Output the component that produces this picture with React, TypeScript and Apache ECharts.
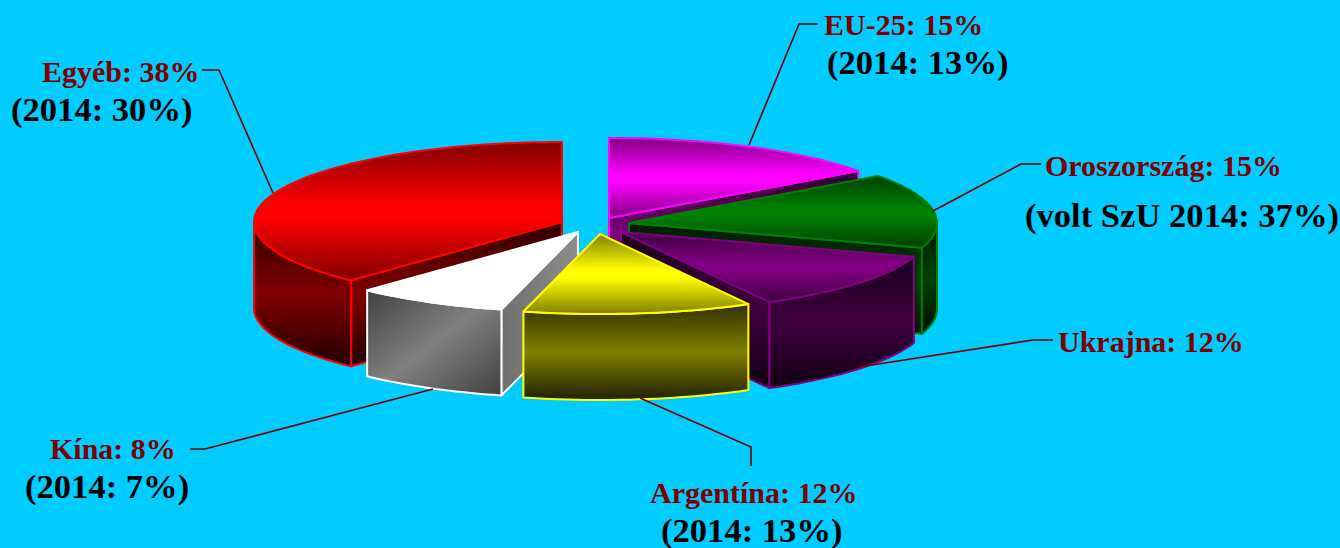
import React, { useEffect, useRef } from "react";
import * as echarts from "echarts";

// ---- data ----
const categories = ["EU-25", "Oroszország", "Ukrajna", "Argentína", "Kína", "Egyéb"];
const shares = [15, 15, 12, 12, 8, 38];
const compareLabels = ["(2014: 13%)", "(volt SzU 2014: 37%)", "", "(2014: 13%)", "(2014: 7%)", "(2014: 30%)"];

// ---- layout & style (separate from the data) ----
const drawOrder = [5, 0, 1, 2, 4, 3];
const centers = [[609, 218], [629, 223], [621, 232], [600, 234], [578, 232], [562, 222]];
const RX = 308, RY = 80, DEPTH = 86;
const palette = [
  { line: "#ff00ff", top: ["#800080", "#ff00ff"], wall: ["#2a002a", "#800080", "#200020"] },
  { line: "#008000", top: ["#004000", "#008000"], wall: ["#001a00", "#004000", "#001000"] },
  { line: "#800080", top: ["#400040", "#800080"], wall: ["#1a001a", "#400040", "#100010"] },
  { line: "#ffff00", top: ["#808000", "#ffff00"], wall: ["#303000", "#808000", "#202000"] },
  { line: "#ffffff", top: ["#ffffff", "#ffffff"], wall: ["#404040", "#808080", "#404040"] },
  { line: "#ff0000", top: ["#800000", "#ff0000"], wall: ["#300000", "#800000", "#200000"] },
];
const labelPos = [
  { x: 824, y: 24, sx: 827, sy: 62 },
  { x: 1045, y: 165, sx: 1025, sy: 215 },
  { x: 1058, y: 341, sx: 0, sy: 0 },
  { x: 650, y: 492, sx: 661, sy: 530 },
  { x: 50, y: 448, sx: 25, sy: 486 },
  { x: 42, y: 71, sx: 11, sy: 109 },
];
const leaders = [
  [[818, 24], [799, 24], [749, 145]],
  [[1041, 164], [1021, 164], [933, 211]],
  [[1053, 340], [1033, 340], [859, 367]],
  [[640, 398], [751, 447], [751, 466]],
  [[190, 449], [205, 449], [433, 389]],
  [[202, 70], [219, 70], [273, 193]],
];
const FONT = '"Liberation Serif", "Times New Roman", serif';

const total = shares.reduce((a, b) => a + b, 0);
const starts = shares.map((_, i) => (shares.slice(0, i).reduce((a, b) => a + b, 0) / total) * Math.PI * 2);

function rim(i: number, th: number, dy = 0): number[] {
  const [cx, cy] = centers[i];
  return [cx + RX * Math.sin(th), cy - RY * Math.cos(th) + dy];
}
function arc(i: number, a: number, b: number, dy = 0): number[][] {
  const n = Math.max(2, Math.ceil(Math.abs(b - a) / 0.03));
  const pts: number[][] = [];
  for (let k = 0; k <= n; k++) pts.push(rim(i, a + ((b - a) * k) / n, dy));
  return pts;
}
function vGrad(c: string[]) {
  return new echarts.graphic.LinearGradient(0, 0, 0, 1, c.map((color, k) => ({ offset: k / (c.length - 1), color })));
}

function renderSlice(_: any, api: any) {
  const i = api.value(0) as number;
  const a = starts[i];
  const b = a + (shares[i] / total) * Math.PI * 2;
  const [cx, cy] = centers[i];
  const p = palette[i];
  const isWhite = i === 4;
  const wallFill = isWhite
    ? new echarts.graphic.LinearGradient(0, 0, 1, 1, [
        { offset: 0, color: p.wall[0] },
        { offset: 0.5, color: p.wall[1] },
        { offset: 1, color: p.wall[2] },
      ])
    : vGrad(p.wall);
  const cutFill = isWhite
    ? new echarts.graphic.LinearGradient(0, 0, 1, 0, [
        { offset: 0, color: "#707070" },
        { offset: 1, color: "#8c8c8c" },
      ])
    : vGrad(p.wall);
  const strokeStyle = { stroke: p.line, lineWidth: 2, lineJoin: "round" };
  const children: any[] = [];
  const cut = (th: number) => {
    const e = rim(i, th);
    children.push({
      type: "polygon",
      shape: { points: [[cx, cy], e, [e[0], e[1] + DEPTH], [cx, cy + DEPTH]] },
      style: { fill: cutFill, ...strokeStyle },
    });
  };
  // only the cut faces turned towards the viewer are drawn
  if (a > Math.PI) cut(a);
  if (b < Math.PI) cut(b);
  const va = Math.max(a, Math.PI / 2);
  const vb = Math.min(b, (Math.PI * 3) / 2);
  if (vb > va) {
    children.push({
      type: "polygon",
      shape: { points: [...arc(i, va, vb), ...arc(i, vb, va, DEPTH)] },
      style: { fill: wallFill, ...strokeStyle },
    });
  }
  children.push({
    type: "polygon",
    shape: { points: [[cx, cy], ...arc(i, a, b)] },
    style: {
      fill: new echarts.graphic.LinearGradient(0, 0, 0, 1, [
        { offset: 0, color: p.top[0] },
        { offset: 0.45, color: p.top[1] },
        { offset: 0.55, color: p.top[1] },
        { offset: 1, color: p.top[0] },
      ]),
      ...strokeStyle,
    },
  });
  return { type: "group", children };
}

export default function App() {
  const ref = useRef<HTMLDivElement>(null);
  useEffect(() => {
    document.body.style.margin = "0";
    const chart = echarts.init(ref.current!, null, { renderer: "svg" });
    const graphic: any[] = [];
    leaders.forEach((pts) =>
      graphic.push({
        type: "polyline",
        z: 5,
        shape: { points: pts },
        style: { stroke: "#800000", lineWidth: 1.6, fill: "none" },
      })
    );
    categories.forEach((c, i) => {
      graphic.push({
        type: "text",
        z: 6,
        x: labelPos[i].x,
        y: labelPos[i].y,
        style: {
          text: `${c}: ${shares[i]}%`,
          fill: "#800000",
          font: `bold 30px ${FONT}`,
          textVerticalAlign: "middle",
        },
      });
      if (compareLabels[i]) {
        graphic.push({
          type: "text",
          z: 6,
          x: labelPos[i].sx,
          y: labelPos[i].sy,
          style: {
            text: compareLabels[i],
            fill: "#000000",
            font: `bold 34.6px ${FONT}`,
            textVerticalAlign: "middle",
          },
        });
      }
    });
    chart.setOption({
      animation: false,
      backgroundColor: "#00ccff",
      graphic,
      series: [
        {
          type: "custom",
          coordinateSystem: "none",
          renderItem: renderSlice,
          silent: true,
          z: 2,
          data: drawOrder.map((i) => [i, shares[i]]),
        },
      ],
    });
    return () => chart.dispose();
  }, []);
  return <div ref={ref} style={{ width: 1340, height: 548, background: "#00ccff" }} />;
}
